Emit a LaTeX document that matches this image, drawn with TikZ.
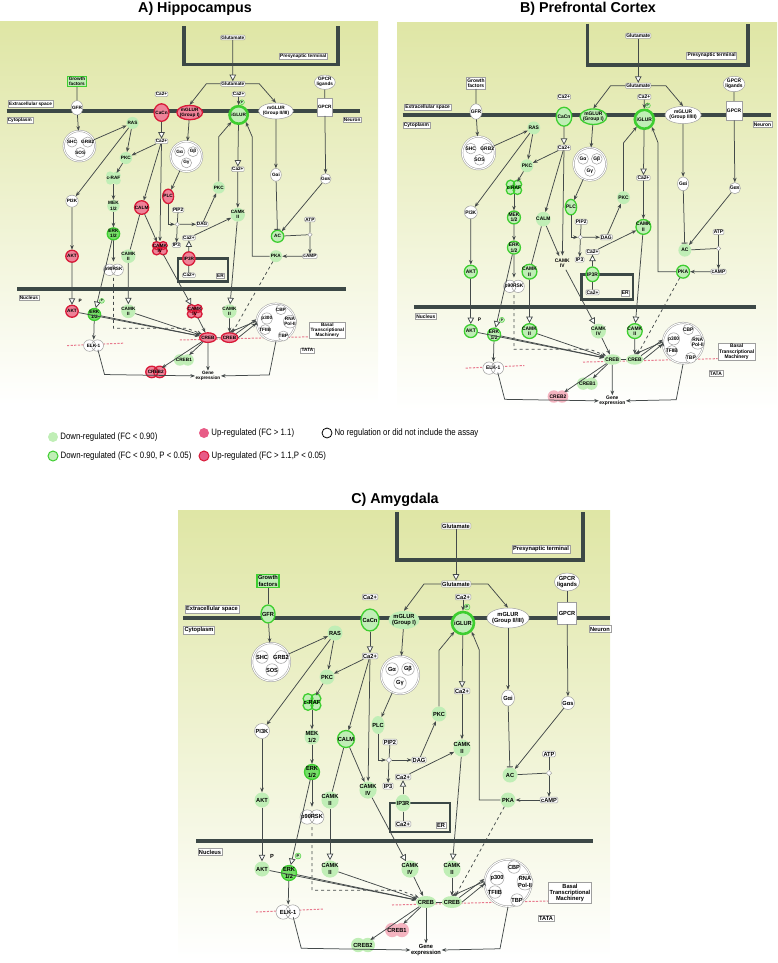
\documentclass[tikz,border=0pt]{standalone}
\usepackage{fontspec}
\setmainfont{Liberation Sans}
\newfontfamily\pwfont{Liberation Sans}[FakeStretch=0.96]
\newfontfamily\narrowfont{Liberation Sans}[FakeStretch=0.84]
\usetikzlibrary{shapes,arrows.meta,positioning}

\definecolor{dnfill}{RGB}{192,238,182}
\definecolor{dnline}{RGB}{62,206,48}
\definecolor{dnstrong}{RGB}{118,222,104}
\definecolor{upfill}{RGB}{244,180,192}
\definecolor{upsfill}{RGB}{238,130,152}
\definecolor{upline}{RGB}{216,26,56}
\definecolor{legup}{RGB}{232,92,135}
\definecolor{lnk}{RGB}{68,74,74}
\definecolor{memb}{RGB}{60,72,70}
\definecolor{dnacol}{RGB}{232,122,142}
\definecolor{bgtop}{RGB}{223,230,165}
\definecolor{bgmid}{RGB}{238,241,202}

\newcommand\lbl{\pwfont\bfseries\fontsize{5.9}{6.4}\selectfont}
\newif\ifflower

% two lobes for dimers, four lobes for groups
\newcommand\dimer[3]{\path[#1] (#2-4.8,#3) circle[radius=7.2] (#2+4.8,#3) circle[radius=7.2];}
\newcommand\cluster[3]{\path[#1] (#2-4,#3-3.4) circle[radius=4.9] (#2+4,#3-3.4) circle[radius=4.9]
  (#2-4,#3+3.4) circle[radius=4.9] (#2+4,#3+3.4) circle[radius=4.9];}

\newcommand\pathway{%
 \draw[wall] (183,618) -- (610,618);
 \draw[wall] (196,841) -- (593,841);
 \draw[wall] (397,512) -- (397,560) -- (583,560) -- (583,512);
 \draw[wall,line width=2.6pt] (390,803) rectangle (450,832);
 \draw[dna] (256,912) -- (324,909);
 \draw[dna] (392,905) -- (548,901);
 \node[tbox] (extra) at (212,609) {Extracellular space};
 \node[tbox] (cyto) at (199,630) {Cytoplasm};
 \node[tbox] (neuron) at (600,629) {Neuron};
 \node[tbox] (nucl) at (210,852) {Nucleus};
 \node[tbox] (presyn) at (541,549) {Presynaptic terminal};
 \node[tbox] (btm) at (570,893) {Basal\\Transcriptional\\Machinery};
 \node[tbox] (tata) at (546,918) {TATA};
 \node[tbox] (erlab) at (441,825) {ER};
 % membrane
 \node[tbox,c-gf] (gf) at (268,581) {Growth\\factors};
 \node[mol,ellipse,minimum width=12pt,minimum height=18pt,c-gfr] (gfr) at (268,614) {GFR};
 \node[mbox] (caex) at (370,597) {Ca2+};
 \node[mol,ellipse,minimum width=14pt,minimum height=22pt,c-cacn] (cacn) at (370,620) {CaCn};
 \node[mol,ellipse,minimum width=27pt,minimum height=18pt,c-mglur1] (mglur1) at (404,620) {mGLUR\\(Group I)};
 \node[mbox] (glu1) at (456,526) {Glutamate};
 \node[mbox] (glu2) at (456,584) {Glutamate};
 \node[mbox] (caig) at (463,597) {Ca2+};
 \node[mol,minimum size=22pt,c-iglur,line width=2.6pt] (iglur) at (463,623) {iGLUR};
 \node[pdot] (pig) at (467,607) {P};
 \node[mol,ellipse,minimum width=34pt,minimum height=20pt,c-mglur2] (mglur2) at (508,618) {mGLUR\\(Group II/III)};
 \node[mol,ellipse,minimum width=25pt,minimum height=18pt,c-gpcrl] (gpcrl) at (567,582) {GPCR\\ligands};
 \node[tbox,minimum width=15pt,minimum height=22pt,c-gpcr] (gpcr) at (567,613) {GPCR};
 % cytoplasm
 \node[cplx] (shc) at (271,662) {};
 \node[sub] (shc1) at (262,657) {SHC};
 \node[sub] (grb) at (281,657) {GRB2};
 \node[sub] (sos) at (272,670) {SOS};
 \node[mol,c-ras] (ras) at (335,633) {RAS};
 \node[mbox] (cain) at (370,656) {Ca2+};
 \node[mol,c-pkcl] (pkcl) at (327,677) {PKC};
 \cluster{c-craf}{312}{702}
 \node[molt] (craf) at (312,702) {c-RAF};
 \node[cplx] (gq) at (400,675) {};
 \node[sub] (ga) at (392,669) {Gα};
 \node[sub] (gb) at (408,669) {Gβ};
 \node[sub] (gg) at (400,683) {Gγ};
 \node[mbox] (caig2) at (462,691) {Ca2+};
 \node[mol,ellipse,minimum width=13pt,minimum height=16pt,c-gai] (gai) at (508,698) {Gαi};
 \node[mol,minimum size=13pt,c-gas] (gas) at (568,703) {Gαs};
 \node[mol,c-pkcr] (pkcr) at (439,714) {PKC};
 \node[mol,ellipse,minimum width=12pt,minimum height=18pt,c-plc] (plc) at (378,725) {PLC};
 \node[mol,c-pi3k] (pi3k) at (262,731) {PI3K};
 \node[mol,c-mek] (mek) at (312,737) {MEK\\1/2};
 \node[mol,c-erk1] (erk1) at (312,772) {ERK\\1/2};
 \node[mol,minimum size=17pt,c-calm] (calm) at (346,739) {CALM};
 \ifflower
  \cluster{c-camk4u}{368}{790}
  \node[molt] (camk4u) at (368,790) {CAMK\\IV};
 \else
  \node[mol,c-camk4u] (camk4u) at (368,790) {CAMK\\IV};
 \fi
 \node[mol,c-camk2l] (camk2l) at (330,800) {CAMK\\II};
 \node[mol,c-akt1] (akt1) at (262,800) {AKT};
 \dimer{c-p90}{312}{817}
 \node[molt] (p90) at (312,817) {p90RSK};
 \node[mbox] (pip2) at (390,742) {PIP2};
 \node[dia] (dia1) at (389,760) {};
 \node[mbox] (dag) at (419,760) {DAG};
 \node[mol,c-camk2r] (camk2r) at (462,748) {CAMK\\II};
 \node[mbox] (caer) at (403,777) {Ca2+};
 \node[mbox] (ip3) at (388,786) {IP3};
 \node[mol,ellipse,minimum width=14pt,minimum height=17pt,c-ip3r] (ip3r) at (403,803) {IP3R};
 \node[mbox] (caer2) at (403,824) {Ca2+};
 \node[mol,c-ac] (ac) at (510,775) {AC};
 \node[mbox] (atp) at (549,754) {ATP};
 \node[dia] (dia2) at (549,773) {};
 \node[mbox] (camp) at (549,800) {cAMP};
 \node[mol,c-pka] (pka) at (508,800) {PKA};
 % nucleus
 \node[mol,c-akt2] (akt2) at (262,869) {AKT};
 \node[plain] (pakt) at (272,856) {P};
 \node[mol,c-erk2] (erk2) at (289,873) {ERK\\1/2};
 \node[pdot] (perk) at (298,856) {P};
 \node[mol,c-camk2n] (camk2n) at (330,869) {CAMK\\II};
 \ifflower
  \cluster{c-camk4n}{410}{869}
  \node[molt] (camk4n) at (410,869) {CAMK\\IV};
 \else
  \node[mol,c-camk4n] (camk4n) at (410,869) {CAMK\\IV};
 \fi
 \node[mol,c-camk2rn] (camk2rn) at (452,869) {CAMK\\II};
 \node[mol,ellipse,minimum width=20pt,minimum height=12pt,c-crebl] (crebl) at (426,902) {CREB};
 \node[mol,ellipse,minimum width=20pt,minimum height=12pt,c-crebr] (crebr) at (452,902) {CREB};
 \node[cplx,minimum size=47pt] (tc) at (508,883) {};
 \node[sub] (cbp) at (514,867) {CBP};
 \node[sub,minimum size=14pt] (p300) at (497,878) {p300};
 \node[sub,minimum size=16pt] (pol) at (525,882) {RNA\\Pol-II};
 \node[sub] (tf2b) at (495,892) {TFIIB};
 \node[sub] (tbp) at (517,900) {TBP};
 \dimer{c-elk}{288}{912}
 \node[molt] (elk) at (288,912) {ELK-1};
 \dimer{c-creb2}{363}{945}
 \node[molt] (creb2) at (363,945) {CREB2};
 \dimer{c-crebo}{397}{930}
 \node[molt] (crebo) at (397,930) {CREB1};
 \node[plain] (gene) at (426,950) {Gene\\expression};
 \path[link]
  (gf) edge[-] (gfr)
  (gfr) edge (shc)
  (shc) edge (ras)
  (ras) edge (pkcl)
  (ras) edge (pi3k)
  (cacn) edge[opent] (cain)
  (cain) edge (pkcl)
  (cain) edge (calm)
  (cain) edge (camk4u)
  (pkcl) edge (craf)
  (craf) edge (mek)
  (mek) edge (erk1)
  (erk1) edge (p90)
  (erk1) edge[opent] (erk2)
  (pi3k) edge (akt1)
  (akt1) edge[opent] (akt2)
  (calm) edge[-] (camk2l)
  (calm) edge (camk4u)
  (camk2l) edge[opent] (camk2n)
  (camk4u) edge[opent] (camk4n)
  (akt2) edge (crebl)
  (erk2) edge (crebl)
  (camk2n) edge (crebl)
  (camk4n) edge (crebl)
  (camk2rn) edge (crebr)
  (erk2) edge (elk)
  (mglur1) edge (gq)
  (gq) edge (plc)
  (pip2) edge[-] (dia1)
  (dia1) edge (ip3)
  (dia1) edge (dag)
  (dag) edge (pkcr)
  (glu1) edge[opent] (glu2)
  (caig) edge (iglur)
  (iglur) edge[opent] (caig2)
  (caig2) edge (camk2r)
  (caer) edge (camk2r)
  (ip3r) edge[opent] (caer)
  (ip3r) edge[-] (caer2)
  (camk2r) edge[opent] (camk2rn)
  (mglur2) edge (gai)
  (gai) edge[inhib] (ac)
  (gpcrl) edge[-] (gpcr)
  (gpcr) edge (gas)
  (gas) edge (ac)
  (ac) edge[-] (dia2)
  (atp) edge[-] (dia2)
  (dia2) edge (camp)
  (camp) edge (pka)
  (pka) edge[dashed] (crebr)
  (crebl) edge (gene)
  (crebl) edge (crebo)
  (crebl) edge (creb2)
  (crebl) edge[-] (crebr)
  (crebr.north east) edge ([yshift=4pt]tc.west)
  (crebr.east) edge ([yshift=-1pt]tc.west)
  ([yshift=1.5pt]tc.west) edge (crebr.north)
  ;
 \draw[link] (plc.south) |- (dia1.west);
 \draw[link] (glu2.west) -- ++(-17,0) -- (mglur1.north);
 \draw[link] (glu2.east) -- ++(17,0) -- (mglur2.north);
 \draw[link] (pkcr.north) -- ++(0,-56) -- (iglur.south west);
 \draw[link] (pka.west) -- ++(-21,0) -- ++(0,-150) -- (iglur.south east);
 \draw[link,dashed] (p90.south) -- ++(0,63) -- ++(88,0) -- (crebl.north west);
 \draw[link] (elk.south east) -- ++(8,31) -- (gene.west);
 \draw[link] (tc.south) -- ++(-8,42) -- (gene.east);
}

\begin{document}
\begin{tikzpicture}[x=1pt,y=-1pt,>={Stealth[length=4.6pt,width=3.6pt]},
  wall/.style={draw=memb,line width=3.6pt},
  dna/.style={draw=dnacol,line width=1pt,dash pattern=on 2.2pt off 1.4pt},
  link/.style={draw=lnk,line width=0.75pt,->},
  opent/.style={-{Triangle[open,fill=white,length=6.5pt,width=6.5pt]}},
  inhib/.style={-{Bar[width=6pt,line width=0.9pt]}},
  dreg/.style={fill=dnfill,draw=none},
  dsig/.style={fill=dnfill,draw=dnline,line width=1.3pt},
  dstr/.style={fill=dnstrong,draw=dnline,line width=1.3pt},
  ureg/.style={fill=upfill,draw=none},
  usig/.style={fill=upsfill,draw=upline,line width=1.3pt},
  nreg/.style={fill=white,draw=gray!75,line width=0.5pt},
  blank/.style={fill=none,draw=none},
  mol/.style={circle,inner sep=-1pt,minimum size=15pt,font=\lbl,align=center},
  molt/.style={circle,inner sep=-1pt,minimum size=14pt,font=\lbl,align=center},
  sub/.style={circle,draw=gray!75,fill=white,line width=0.5pt,inner sep=-1.5pt,minimum size=12.5pt,font=\lbl,align=center},
  cplx/.style={circle,draw=gray!75,fill=white,double=white,double distance=1pt,line width=0.5pt,minimum size=38pt,inner sep=0pt},
  tbox/.style={rectangle,draw=gray!75,fill=white,line width=0.5pt,inner sep=1.2pt,font=\lbl,align=center},
  mbox/.style={rectangle,rounded corners=1.2pt,draw=gray!75,fill=white,line width=0.5pt,inner sep=0.9pt,font=\lbl},
  pdot/.style={circle,fill=dnfill,draw=dnline,line width=0.4pt,inner sep=0pt,minimum size=6pt,font=\pwfont\bfseries\fontsize{4}{4}\selectfont},
  plain/.style={inner sep=0.5pt,font=\lbl,align=center},
  dia/.style={diamond,draw=gray!75,fill=white,line width=0.5pt,inner sep=0pt,minimum size=5.5pt},
  title/.style={font=\fontsize{14.3}{16}\selectfont\bfseries,anchor=base},
  legdot/.style={circle,minimum size=10pt,inner sep=0pt},
  legtxt/.style={font=\narrowfont\fontsize{9.3}{11}\selectfont,inner sep=0pt},
  bg/.style={top color=bgtop,middle color=bgmid,bottom color=white},
  c-gf/.style=nreg, c-gfr/.style=nreg, c-ras/.style=nreg, c-cacn/.style=nreg,
  c-mglur1/.style=nreg, c-iglur/.style=nreg, c-mglur2/.style=nreg, c-gpcrl/.style=nreg,
  c-gpcr/.style=nreg, c-pkcl/.style=nreg, c-craf/.style=nreg, c-plc/.style=nreg,
  c-pkcr/.style=nreg, c-gai/.style=nreg, c-gas/.style=nreg, c-pi3k/.style=nreg,
  c-mek/.style=nreg, c-erk1/.style=nreg, c-calm/.style=nreg, c-camk4u/.style=nreg,
  c-camk2l/.style=nreg, c-akt1/.style=nreg, c-p90/.style=nreg, c-camk2r/.style=nreg,
  c-ip3r/.style=nreg, c-ac/.style=nreg, c-pka/.style=nreg, c-akt2/.style=nreg,
  c-erk2/.style=nreg, c-camk2n/.style=nreg, c-camk4n/.style=nreg, c-camk2rn/.style=nreg,
  c-crebl/.style=nreg, c-crebr/.style=nreg, c-elk/.style=nreg, c-creb2/.style=nreg,
  c-crebo/.style=nreg,
  hippo/.style={c-gf/.style=dsig, c-ras/.style=dreg, c-cacn/.style=usig, c-mglur1/.style=usig,
    c-iglur/.style=dsig, c-pkcl/.style=dreg, c-craf/.style=dreg, c-pkcr/.style=dreg,
    c-plc/.style=usig, c-mek/.style=dreg, c-erk1/.style=dstr, c-calm/.style=usig,
    c-camk4u/.style=usig, c-camk2l/.style=dreg, c-akt1/.style=usig, c-camk2r/.style=dreg,
    c-ip3r/.style=usig, c-ac/.style=dsig, c-pka/.style=dreg, c-akt2/.style=usig,
    c-erk2/.style=dstr, c-camk2n/.style=dreg, c-camk4n/.style=usig, c-camk2rn/.style=dreg,
    c-crebl/.style=usig, c-crebr/.style=usig, c-creb2/.style=usig, c-crebo/.style=dreg},
  pfc/.style={c-ras/.style=dreg, c-cacn/.style=dsig, c-mglur1/.style=dsig, c-iglur/.style=dsig,
    c-pkcl/.style=dreg, c-craf/.style=dsig, c-plc/.style=dsig, c-pkcr/.style=dreg,
    c-mek/.style=dsig, c-erk1/.style=dsig, c-calm/.style=dreg, c-camk4u/.style=blank,
    c-camk2l/.style=dsig, c-akt1/.style=dsig, c-camk2r/.style=dsig, c-ip3r/.style=dsig,
    c-ac/.style=dreg, c-pka/.style=dsig, c-akt2/.style=dsig, c-erk2/.style=dsig,
    c-camk2n/.style=dsig, c-camk4n/.style=dreg, c-camk2rn/.style=dsig, c-crebl/.style=dreg,
    c-crebr/.style=dreg, c-creb2/.style=ureg, c-crebo/.style=dreg},
  amyg/.style={c-gf/.style=dsig, c-gfr/.style=dsig, c-ras/.style=dreg, c-cacn/.style=dsig,
    c-mglur1/.style=dreg, c-iglur/.style=dsig, c-pkcl/.style=dreg, c-craf/.style=dsig,
    c-plc/.style=dreg, c-pkcr/.style=dreg, c-mek/.style=dreg, c-erk1/.style=dstr,
    c-calm/.style=dsig, c-camk4u/.style=dreg, c-camk2l/.style=dreg, c-akt1/.style=dreg,
    c-camk2r/.style=dreg, c-ip3r/.style=dreg, c-ac/.style=dreg, c-pka/.style=dreg,
    c-akt2/.style=dreg, c-erk2/.style=dstr, c-camk2n/.style=dreg, c-camk4n/.style=dreg,
    c-camk2rn/.style=dreg, c-crebl/.style=dreg, c-crebr/.style=dreg, c-creb2/.style=dreg,
    c-crebo/.style=ureg}]
 \useasboundingbox (0,0) rectangle (777,963);
 \shade[bg] (0,22) rectangle (378,405);
 \shade[bg] (397,23) rectangle (777,410);
 \shade[bg] (178,510) rectangle (610,960);
 \node[title] (ta) at (195,13) {A) Hippocampus};
 \node[title] (tb) at (588,13) {B) Prefrontal Cortex};
 \node[title] (tcc) at (395,503) {C) Amygdala};

 \flowertrue
 \begin{scope}[shift={(-145.2,-382.2)},xscale=0.829,yscale=0.798,transform shape,hippo]
  \pathway
 \end{scope}
 \flowerfalse
 \begin{scope}[shift={(244.7,-417.1)},xscale=0.863,yscale=0.861,transform shape,pfc]
  \pathway
 \end{scope}
 \begin{scope}[amyg]
  \pathway
 \end{scope}

 % legend
 \node[legdot,fill=dnfill] (lg1) at (53,437) {};
 \node[legtxt,right=2pt of lg1] (lt1) {Down-regulated (FC < 0.90)};
 \node[legdot,fill=dnfill,draw=dnline,line width=1pt] (lg2) at (53,456) {};
 \node[legtxt,right=2pt of lg2] (lt2) {Down-regulated (FC < 0.90, P < 0.05)};
 \node[legdot,fill=legup] (lg3) at (204,433) {};
 \node[legtxt,right=2pt of lg3] (lt3) {Up-regulated (FC > 1.1)};
 \node[legdot,fill=legup,draw=upline,line width=1pt] (lg4) at (204,456) {};
 \node[legtxt,right=2pt of lg4] (lt4) {Up-regulated (FC > 1.1,P < 0.05)};
 \node[legdot,fill=white,draw=black,line width=0.8pt] (lg5) at (327,433) {};
 \node[legtxt,right=2pt of lg5] (lt5) {No regulation or did not include the assay};
\end{tikzpicture}
\end{document}
